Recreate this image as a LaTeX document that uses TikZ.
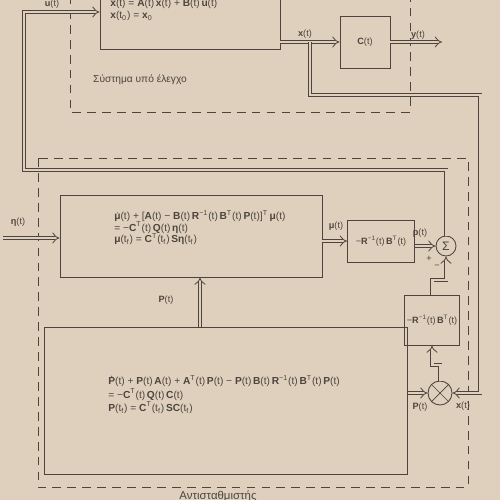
\documentclass[tikz,border=0pt]{standalone}
\usepackage{fontspec}
\setmainfont{Liberation Sans}
\usetikzlibrary{arrows.meta}
\usetikzlibrary{calc}
\definecolor{paper}{RGB}{222,208,188}
\definecolor{ink}{RGB}{76,68,62}
\newcommand{\dt}[1] % symbol with a dot above
{%
	\sbox0{#1}\edef\dtup{\the\dimexpr\ht0+0.8pt\relax}%
	\rlap{#1}\makebox[\wd0][l]{\hspace{\dimexpr0.5\wd0-0.3pt\relax}\tikz[baseline=0pt]\fill[ink] (0pt,\dtup) circle (0.32pt);}%
}
\newcommand{\gain} % -R^-1 B^T
{
	−\textbf{R}\textsuperscript{−1}(t)\,\textbf{B}\textsuperscript{T}(t)
}

\begin{document}
\begin{tikzpicture}[x=0.02cm, y=-0.02cm, ink, line width=0.5pt,
	every node/.style={font=\fontsize{5.2}{6.5}\selectfont, text=ink},
	blk/.style={draw, rectangle, inner sep=0},
	eq/.style={align=left, inner sep=0, anchor=north west, font=\fontsize{5.8}{6.6}\selectfont},
	dbl/.style={double=paper, double distance=1.7pt, line width=0.45pt, -{Implies}},
	dashbox/.style={line width=0.4pt, dash pattern=on 5pt off 3.5pt}]
	% page 500 x 500
	\useasboundingbox (0,0) rectangle (500,500);
	\fill[paper] (0,0) rectangle (500,500);

	% dashed frames
	\draw[dashbox] (70,-5) rectangle (410,112);
	\draw[dashbox] (38,158) rectangle (468,487);
	\node (sysname) at (140,80) {\fontsize{5.8}{7}\selectfont Σύστημα υπό έλεγχο};
	\node (compname) at (218,496) {\fontsize{6.5}{7}\selectfont Αντισταθμιστής};

	% plant
	\node[blk, fill=paper, minimum width=3.6cm, minimum height=1.5cm] (sys) at (190,12) {};
	\node[eq] (syseq) at (110,-1) {\dt{\textbf{x}}(t) = \textbf{A}(t)\,\textbf{x}(t) + \textbf{B}(t)\,\textbf{u}(t)\\
		\textbf{x}(t\textsubscript{0}) = \textbf{x}\textsubscript{0}};
	\node[blk, minimum width=1.0cm, minimum height=1.04cm] (cbox) at (365,42) {\textbf{C}(t)};
	\coordinate (yend) at (442,42);
	\coordinate (br) at (310,42);

	% compensator
	\node[blk, minimum width=5.24cm, minimum height=1.64cm] (mu) at (191,236) {};
	\node[eq] (mueq) at (114,210) {\dt{\textbf{μ}}(t) + [\textbf{A}(t) − \textbf{B}(t)\,\textbf{R}\textsuperscript{−1}(t)\,\textbf{B}\textsuperscript{T}(t)\,\textbf{P}(t)]\textsuperscript{T}\,\textbf{μ}(t)\\
		= −\textbf{C}\textsuperscript{T}(t)\,\textbf{Q}(t)\,\textbf{η}(t)\\
		\textbf{μ}(t\textsubscript{f}) = \textbf{C}\textsuperscript{T}(t\textsubscript{f})\,\textbf{S}\textbf{η}(t\textsubscript{f})};
	\node[blk, minimum width=1.34cm, minimum height=0.84cm] (r1) at (381,241) {\gain};
	\node[draw, circle, minimum size=0.4cm, inner sep=0] (sig) at (446,246) {\fontsize{7}{7}\selectfont Σ};
	\node[blk, minimum width=1.1cm, minimum height=1.0cm] (r2) at (432,320) {\gain};
	\node[draw, circle, minimum size=0.48cm, inner sep=0] (mult) at (440,393) {};
	\draw[line width=0.4pt] (mult.45) -- (mult.225);
	\draw[line width=0.4pt] (mult.135) -- (mult.315);
	\node[blk, minimum width=7.26cm, minimum height=2.94cm] (ric) at (226,401) {};
	\node[eq, font=\fontsize{5.8}{7.6}\selectfont] (riceq) at (108,375) {\dt{\textbf{P}}(t) + \textbf{P}(t)\,\textbf{A}(t) + \textbf{A}\textsuperscript{T}(t)\,\textbf{P}(t) − \textbf{P}(t)\,\textbf{B}(t)\,\textbf{R}\textsuperscript{−1}(t)\,\textbf{B}\textsuperscript{T}(t)\,\textbf{P}(t)\\
		= −\textbf{C}\textsuperscript{T}(t)\,\textbf{Q}(t)\,\textbf{C}(t)\\
		\textbf{P}(t\textsubscript{f}) = \textbf{C}\textsuperscript{T}(t\textsubscript{f})\,\textbf{S}\textbf{C}(t\textsubscript{f})};
	\coordinate (eta) at (3,238);
	\coordinate (pa) at (200,0);
	\coordinate (uc) at (24,170);
	\coordinate (lc) at (480,95);
	\coordinate (rc) at (446,280);
	\coordinate (mc) at (432,365);

	% connections
	\draw[dbl] (sys.east |- cbox) -- (cbox.west);
	\draw[dbl] (cbox.east) -- (yend);
	\draw[dbl] (br) |- (lc) |- (mult.east);
	\draw[dbl] (sig.north) |- (uc) |- (sys.west);
	\draw[dbl] (eta) -- (eta -| mu.west);
	\draw[dbl] (mu.east |- r1) -- (r1.west);
	\draw[dbl] (r1.east |- sig) -- (sig.west);
	\draw[dbl] (r2.north) |- (rc) -- (sig.south);
	\draw[dbl] (mult.north) |- (mc) -- (r2.south);
	\draw[dbl] (ric.east |- mult) -- (mult.west);
	\draw[dbl] (pa |- ric.north) -- (pa |- mu.south);

	% labels
	\node (ulab) at (52,4) {\textbf{u}(t)};
	\node (xlab) at (305,34) {\textbf{x}(t)};
	\node (ylab) at (418,35) {\textbf{y}(t)};
	\node (etalab) at (18,222) {\textbf{η}(t)};
	\node (mulab) at (336,226) {\textbf{μ}(t)};
	\node (plab) at (420,233) {\textbf{p}(t)};
	\node (plus) at (429,259) {+};
	\node (minus) at (437,267) {−};
	\node (Plab) at (166,300) {\textbf{P}(t)};
	\node (Pblab) at (420,407) {\textbf{P}(t)};
	\node (xblab) at (463,406) {\textbf{x}(t)};
\end{tikzpicture}
\end{document}
